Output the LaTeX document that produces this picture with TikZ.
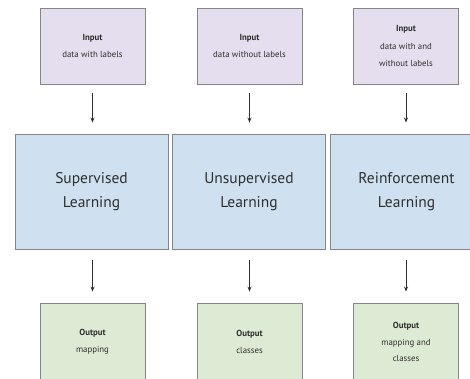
\documentclass[tikz,border=0pt]{standalone}
\usepackage{fontspec}
\setmainfont{PT Sans}
\usetikzlibrary{arrows.meta}
\definecolor{mlInput}{HTML}{E4DEEE}
\definecolor{mlLearn}{HTML}{CFE1F1}
\definecolor{mlOutput}{HTML}{DDEBD5}
\definecolor{mlEdge}{HTML}{858585}
\definecolor{mlText}{HTML}{2E2E2E}
\tikzset{
  ml box/.style={draw=mlEdge, line width=0.9pt, inner sep=0pt, align=center, text=mlText},
  ml input/.style={ml box, fill=mlInput, minimum width=105, minimum height=76, font=\fontsize{8.8}{17.5}\selectfont},
  ml learn/.style={ml box, fill=mlLearn, minimum width=153, minimum height=115, font=\fontsize{15.5}{24.5}\selectfont},
  ml output/.style={ml box, fill=mlOutput, minimum width=105, minimum height=78, font=\fontsize{8.8}{16.5}\selectfont},
  ml arrow/.style={draw=mlText, line width=0.9pt, -{Stealth[length=5pt,width=4pt]}},
}
\begin{document}
\begin{tikzpicture}[x=1pt,y=-1pt]
  \clip (0,0) rectangle (470,379);
  \fill[white] (0,0) rectangle (470,379);
  % top row
  \node[ml input] (in1) at (92.5,46) {\textbf{Input}\\data with labels};
  \node[ml input] (in2) at (249.5,46) {\textbf{Input}\\data without labels};
  \node[ml input] (in3) at (406,46) {\textbf{Input}\\data with and\\without labels};
  % learning types
  \node[ml learn] (ln1) at (91.5,191.5) {Supervised\\Learning};
  \node[ml learn] (ln2) at (249,191.5) {Unsupervised\\Learning};
  \node[ml learn] (ln3) at (406.5,191.5) {Reinforcement\\Learning};
  % bottom row
  \node[ml output] (out1) at (92.5,342) {\textbf{Output}\\mapping};
  \node[ml output] (out2) at (249.5,342) {\textbf{Output}\\classes};
  \node[ml output] (out3) at (406,342) {\textbf{Output}\\mapping and\\classes};
  \foreach \i in {1,2,3}{
    \draw[ml arrow, shorten <=9pt, shorten >=11pt] (in\i.south) -- (in\i.south |- ln\i.north);
    \draw[ml arrow, shorten <=11pt, shorten >=11pt] (ln\i.south -| out\i.north) -- (out\i.north);
  }
\end{tikzpicture}
\end{document}
